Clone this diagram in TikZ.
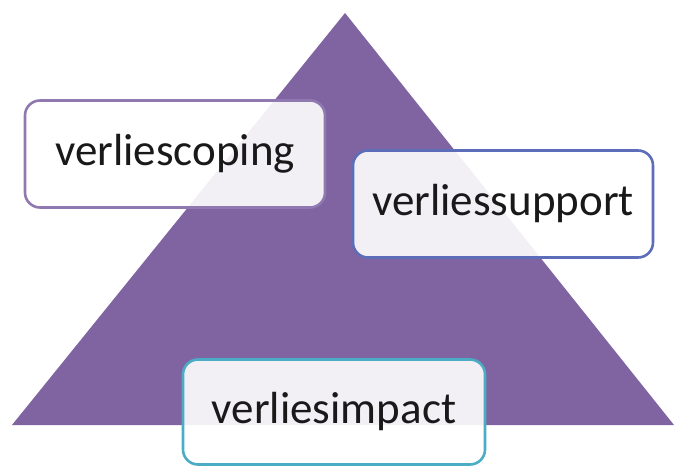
\documentclass[tikz,border=0pt]{standalone}
\usepackage{fontspec}
\setmainfont{Carlito}
\usepackage{tikz}

\definecolor{pyramid}{HTML}{8064A2}
\definecolor{scopeline}{HTML}{9079B0}
\definecolor{supportline}{HTML}{5C6DBA}
\definecolor{impactline}{HTML}{4BACC6}

\begin{document}
\begin{tikzpicture}[x=1pt, y=1pt,
  box/.style = {draw, line width=2.6pt, rounded corners=15pt, fill=white, fill opacity=0.9, text opacity=1, minimum width=300pt, minimum height=107pt, font=\fontsize{45}{54}\selectfont, text=black!90}]
\useasboundingbox (0,0) rectangle (676,466);
\coordinate (top) at (345,453);
\coordinate (left) at (12,41);
\coordinate (right) at (674,41);
\fill[pyramid] (top) -- (left) -- (right) -- cycle;
\node[box, draw=scopeline] (scoping) at (175,312) {verliescoping};
\node[box, draw=supportline] (support) at (503,262) {verliessupport};
\node[box, draw=impactline, minimum width=302pt, minimum height=105pt] (impact) at (334,54) {verliesimpact};
\end{tikzpicture}
\end{document}
